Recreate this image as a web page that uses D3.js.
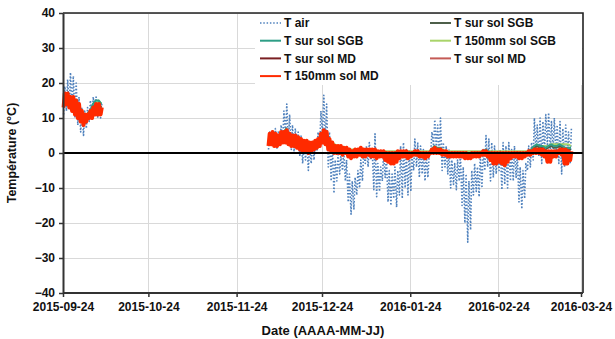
<!DOCTYPE html>
<html>
<head>
<meta charset="utf-8">
<script src="https://cdn.jsdelivr.net/npm/d3@7"></script>
<style>
  body { margin: 0; background: #fff; }
  svg { font-family: "Liberation Sans", Arial, sans-serif; font-weight: bold; }
</style>
</head>
<body>
<svg id="chart" width="615" height="339"></svg>
<script>
// two measurement periods, one value per day
const seg1Start = "2015-09-24";
const seg2Start = "2015-12-05";

const tickDates = ["2015-09-24", "2015-10-24", "2015-11-24", "2015-12-24", "2016-01-24", "2016-02-24", "2016-03-24"];
const yTicks = [-40, -30, -20, -10, 0, 10, 20, 30, 40];

// T air: daily max / min
const tAirMax1 = [19, 21, 23, 22, 20, 16, 13, 12, 13, 15, 16, 16, 15, 14];
const tAirMin1 = [11, 12, 13, 12, 10, 8, 6, 5, 7, 9, 10, 11, 10, 10];
const tAirMax2 = [6,5,7,6,8, 12,14,11, 8,7,6, 5,3,4,2, 3,4,6, 12,16.5,14, 6,3,-2, 0,-1,1,-2, -6,-8,-7,-5, -2,0, 2,3,1, 5.5, -3,-4, 0,-1, -5,-6,-4,-5, 2,3,1, 1,-1, 4,3, 2,1, 0,-1, 6,9.5,8,10, 3,2,1, -2,-3,-2, 0, -4,-6,-8,-5, -3,-4, 0,1, 5,4, 3,2, 0,1, 3,2,3,1, 2,0, -4,-5,-3, 2,3, 10,8,10,9,11, 11.5,9,10,8, 9,7,8,6,7];
const tAirMin2 = [1,2,2,1,3, 4,5,3, 1,0,1, -1,-3,-2,-5, -3,-2,0, 2,5,3, -4,-8,-11.5, -8,-6,-5,-8, -14,-17.5,-16,-12, -10,-8, -3,-4,-2, -10.5, -12.5,-11, -8,-7, -14,-15,-13,-15.5, -12,-13,-10, -12,-11, -5,-4, -7,-6, -8,-7, 0,2,1,0, -5,-4,-6, -10,-9,-10.5, -8, -15,-20,-25.5,-22, -12,-11, -12.5,-10, -5,-4, -8,-7, -6,-5, -10.5,-9,-10,-8, -8,-7, -14,-16,-13, -5,-4, -2,0,-1,-3,0, 2,0,1,-1, -3,-6,-4,-2,-3];

// T 150mm sol MD: daily max / min
const md150Max1 = [17, 17, 16, 16, 15, 14, 12, 11, 11, 12, 13, 14, 14, 13];
const md150Min1 = [13, 14, 13, 12, 11, 10, 9, 8, 9, 10, 10, 11, 11, 11];
const md150Max2 = [5.5,6,5.5,5,6,6,6.5,5.5,5,5,4.5, 4,3.5,3.5,3,3,3.5,4, 5.5,6.5,6, 4,3,2,2,2,1.5,1.5, 1,0.5,1,1,1.5,1,1,1,1, 1,0.5,0.5,0.5,0,0,0,0,0.5, 0.5,0.5,0.5,0,0,0.5,0.5,0,0,0,0, 1,1.5,1,1,0.5,0.5,0,0,0,0,0, 0,0,-0.5,0,0,0,0,0.5,0.5,0,0,0,0,0, 0,0,0,0,0,0,0,0,0,0.5,0.5, 1,1,1,1,0.5,0.5,0.5,0.5,0.5,1,1,1,0.5,0.5];
const md150Min2 = [2,2.5,2,2,2.5,3,3,2.5,2,2,1.5, 1,0.5,0.5,0,0.5,1,1.5, 2,3,2.5, 1,0.5,0,0,0,-0.5,0, -1,-1.5,-1,-1,-0.5,-1,-1,-0.5,-1, -1,-1.5,-1,-1,-2,-2.5,-3,-3,-2.5, -1.5,-1,-1,-1.5,-1,-0.5,-0.5,-1,-1,-1.5,-1, 0,0,0,0,-0.5,-0.5,-1,-1,-1,-1,-1, -1,-1.5,-1.5,-1.5,-1,-1,-1,-0.5,-0.5,-1,-2,-3,-3,-2.5, -3,-3.5,-2.5,-1.5,-1,-1,-1.5,-1.5,-1,-0.5,-0.5, 0,0,0,-0.5,-1,-2.5,-2.5,-1,-1,0,-0.5,-3,-3,-2];

// other soil sensors: daily means
const sgbSurfA1 = [15, 16, 16, 15, 14, 13, 11, 10, 11, 12, 14, 15, 15, 14];
const sgbSurfA2 = [4,5,5,4,5,6,7,5,4,4,4, 3,2,2,1.5,2,2.5,3, 5,6.5,5, 3,2,1,1,1,0.5,0.5, 0.5,0,0.5,0.5,1,0.5,0.5,0.5,0.5, 0.5,0,0,0,0,-0.5,-0.5,-0.5,0, 0,0,0,0,0,0.5,0.5,0,0,0,0, 1,2,1.5,1.5,0.5,0.5,0,0,0,0,0, 0,-0.5,-0.5,-0.5,0,0,0,0.5,1,0.5,0,0,0,0, 0,0,0,0,0,0,0,0,0,0.5,1, 2,2.5,2,2,1.5,2,2.5,2,2,2.5,2,1.5,1.5,1.5];
const sgbSurfB1 = [15, 15, 15, 14, 13, 12, 11, 10, 11, 12, 13, 14, 14, 13];
const sgbSurfB2 = [3.5,4,4,3.5,4,5,5.5,4.5,4,3.5,3.5, 3,2,2,1.5,1.5,2,2.5, 4,5.5,4.5, 2.5,2,1,1,0.5,0.5,0.5, 0,0,0,0.5,0.5,0.5,0,0.5,0.5, 0,0,0,-0.5,-0.5,-0.5,-0.5,-0.5,0, 0,0,0,0,0,0,0.5,0,0,0,0, 0.5,1.5,1,1,0.5,0,0,0,0,0,0, 0,-0.5,-0.5,-0.5,-0.5,0,0,0,0.5,0,0,0,0,0, 0,0,0,0,0,0,0,0,0,0,0.5, 1.5,2,1.5,1.5,1,1.5,2,1.5,1.5,2,1.5,1,1,1];
const sgb150_1 = [15, 15, 15, 15, 14, 13, 12, 11, 11, 12, 13, 14, 15, 14];
const sgb150_2 = [4.5,4.5,4.5,4.5,4.5,5,5,5,4.5,4.5,4, 3.5,3,3,2.5,2.5,2.5,3, 3.5,4.5,4.5, 3.5,3,2.5,2,2,1.5,1.5, 1,1,1,1,1,1,1,1,1, 1,0.5,0.5,0.5,0.5,0.5,0.5,0.5,0.5, 0.5,0.5,0.5,0.5,0.5,0.5,0.5,0.5,0.5,0.5,0.5, 1,1,1,1,1,0.5,0.5,0.5,0.5,0.5,0.5, 0.5,0.5,0.5,0.5,0.5,0.5,0.5,0.5,0.5,0.5,0.5,0.5,0.5,0.5, 0.5,0.5,0.5,0.5,0.5,0.5,0.5,0.5,0.5,0.5,1, 1.5,2,2,2,2,2,2.5,2.5,2.5,2.5,2.5,2.5,2.5,2];
const mdSurfA1 = [15, 16, 15, 14, 13, 12, 10, 10, 10, 11, 12, 13, 13, 12];
const mdSurfA2 = [4,4.5,4,3.5,4.5,5,5.5,4,3.5,3.5,3, 2.5,2,2,1.5,1.5,2,2.5, 4,5,4, 2.5,1.5,1,1,1,0.5,0.5, 0,-0.5,0,0,0.5,0,0,0,0, 0,-0.5,-0.5,-0.5,-1,-1.5,-1.5,-1.5,-1, -0.5,-0.5,-0.5,-0.5,-0.5,0,0,-0.5,-0.5,-0.5,-0.5, 0.5,1,0.5,0.5,0,0,-0.5,-0.5,-0.5,-0.5,-0.5, -0.5,-1,-1,-1,-0.5,-0.5,-0.5,0,0,-0.5,-1,-1.5,-1.5,-1.5, -1.5,-2,-1.5,-1,-0.5,-0.5,-1,-1,-0.5,0,0, 0.5,0.5,0.5,0,-0.5,-1.5,-1.5,-0.5,-0.5,0.5,0,-1.5,-1.5,-1];
const mdSurfB1 = [16, 16, 15, 14, 13, 12, 10, 9, 10, 11, 12, 13, 13, 12];
const mdSurfB2 = [4.5,5,4.5,4,5,5,6,4.5,4,4,3.5, 3,2.5,2,1.5,2,2.5,3, 4.5,5.5,4.5, 3,2,1,1,1,0.5,1, 0,-0.5,0,0,0.5,0,0,0.5,0, 0,0,-0.5,-0.5,-1,-1.5,-2,-2,-1.5, -0.5,0,0,-0.5,-0.5,0,0,-0.5,-0.5,-0.5,-0.5, 0.5,1,0.5,0.5,0,0,-0.5,-0.5,-0.5,-0.5,-0.5, -0.5,-0.5,-1,-1,-0.5,-0.5,-0.5,0,0,-0.5,-1,-2,-2,-1.5, -2,-2.5,-1.5,-1,-0.5,-0.5,-1,-1,-0.5,0,0, 0.5,0.5,0.5,0,-0.5,-1.5,-1.5,-0.5,-0.5,0.5,0,-2,-2,-1.5];

const width = 615, height = 339;
const margin = { top: 13, right: 32, bottom: 46, left: 63 };

const svg = d3.select("#chart");
const parse = d3.utcParse("%Y-%m-%d");
const hour = 3600 * 1000;

const x = d3.scaleUtc()
    .domain([parse("2015-09-24"), parse("2016-03-24")])
    .range([margin.left, width - margin.right - 2]);
const y = d3.scaleLinear()
    .domain([-40, 40])
    .range([height - margin.bottom, margin.top]);

// daily max/min -> min early morning, max afternoon
function zigzag(start, maxs, mins) {
    const t0 = parse(start).getTime();
    const pts = [];
    maxs.forEach((mx, i) => {
        pts.push([new Date(t0 + i * 24 * hour + 5 * hour), mins[i]]);
        pts.push([new Date(t0 + i * 24 * hour + 15 * hour), mx]);
    });
    return pts;
}
function daily(start, vals) {
    const t0 = parse(start).getTime();
    return vals.map((v, i) => [new Date(t0 + i * 24 * hour + 12 * hour), v]);
}

const series = [
    { name: "T air", color: "#4f81bd", w: 1.6, dash: "1.5,1.8",
      segs: [zigzag(seg1Start, tAirMax1, tAirMin1), zigzag(seg2Start, tAirMax2, tAirMin2)] },
    { name: "T 150mm sol SGB", color: "#a9d46a", w: 2,
      segs: [daily(seg1Start, sgb150_1), daily(seg2Start, sgb150_2)] },
    { name: "T sur sol SGB", color: "#4d5f4a", w: 2,
      segs: [daily(seg1Start, sgbSurfB1), daily(seg2Start, sgbSurfB2)] },
    { name: "T sur sol SGB", color: "#2e9e86", w: 2,
      segs: [daily(seg1Start, sgbSurfA1), daily(seg2Start, sgbSurfA2)] },
    { name: "T sur sol MD", color: "#7a1f22", w: 2,
      segs: [daily(seg1Start, mdSurfA1), daily(seg2Start, mdSurfA2)] },
    { name: "T sur sol MD", color: "#c45a55", w: 2,
      segs: [daily(seg1Start, mdSurfB1), daily(seg2Start, mdSurfB2)] },
    { name: "T 150mm sol MD", color: "#ff2a00", w: 4,
      segs: [zigzag(seg1Start, md150Max1, md150Min1), zigzag(seg2Start, md150Max2, md150Min2)] }
];

// grid
const grid = svg.append("g").attr("stroke", "#d9d9d9").attr("stroke-width", 1);
grid.selectAll(".gy").data(yTicks).join("line")
    .attr("x1", margin.left).attr("x2", width - margin.right)
    .attr("y1", d => y(d) + 0.5).attr("y2", d => y(d) + 0.5);
grid.selectAll(".gx").data(tickDates.slice(1)).join("line")
    .attr("x1", d => Math.round(x(parse(d))) + 0.5).attr("x2", d => Math.round(x(parse(d))) + 0.5)
    .attr("y1", margin.top).attr("y2", height - margin.bottom);

// legend background hides grid under it
svg.append("rect")
    .attr("x", 255).attr("y", margin.top + 1)
    .attr("width", width - margin.right - 256).attr("height", 71)
    .attr("fill", "#fff");

// lines
const line = d3.line().x(d => x(d[0])).y(d => y(d[1]));
const lines = svg.append("g").attr("fill", "none");
series.forEach(s => {
    s.segs.forEach(seg => {
        lines.append("path")
            .attr("d", line(seg))
            .attr("stroke", s.color)
            .attr("stroke-width", s.w)
            .attr("stroke-dasharray", s.dash || null)
            .attr("stroke-linejoin", "round");
    });
});

// zero line
svg.append("line")
    .attr("x1", margin.left).attr("x2", width - margin.right)
    .attr("y1", y(0)).attr("y2", y(0))
    .attr("stroke", "#000").attr("stroke-width", 2);

// frame top/right
svg.append("path")
    .attr("d", `M${margin.left},${margin.top}H${width - margin.right}V${height - margin.bottom}`)
    .attr("fill", "none").attr("stroke", "#222").attr("stroke-width", 1.6);

// axes
const xAxis = svg.append("g")
    .attr("transform", `translate(0,${height - margin.bottom})`)
    .call(d3.axisBottom(x)
        .tickValues(tickDates.map(parse))
        .tickFormat(d3.utcFormat("%Y-%m-%d"))
        .tickSize(4)
        .tickSizeOuter(0)
        .tickPadding(5));
xAxis.select(".domain").attr("stroke", "#333").attr("stroke-width", 2)
    .attr("d", `M${margin.left},0H${width - margin.right}`);
xAxis.selectAll(".tick line").attr("stroke", "#333").attr("stroke-width", 1.5);
xAxis.selectAll("text").attr("fill", "#111").style("font-size", "12px").style("font-weight", "bold");

const yAxis = svg.append("g")
    .attr("transform", `translate(${margin.left},0)`)
    .call(d3.axisLeft(y).tickValues(yTicks).tickSize(4).tickSizeOuter(0).tickPadding(4));
yAxis.select(".domain").attr("stroke", "#333").attr("stroke-width", 2);
yAxis.selectAll(".tick line").attr("stroke", "#333").attr("stroke-width", 1.5);
yAxis.selectAll("text").attr("fill", "#111").style("font-size", "12px").style("font-weight", "bold");

// axis titles
svg.append("text")
    .attr("x", (margin.left + width - margin.right) / 2)
    .attr("y", 335)
    .attr("text-anchor", "middle")
    .attr("fill", "#111")
    .style("font-size", "13px")
    .text("Date (AAAA-MM-JJ)");
svg.append("text")
    .attr("transform", `translate(16,${(margin.top + height - margin.bottom) / 2}) rotate(-90)`)
    .attr("text-anchor", "middle")
    .attr("fill", "#111")
    .style("font-size", "12.5px")
    .text("Température (°C)");

// legend, two columns
const legendOrder = [
    { s: series[0], col: 0, row: 0 },
    { s: series[3], col: 0, row: 1 },
    { s: series[4], col: 0, row: 2 },
    { s: series[6], col: 0, row: 3 },
    { s: series[2], col: 1, row: 0 },
    { s: series[1], col: 1, row: 1 },
    { s: series[5], col: 1, row: 2 }
];
const colX = [260, 430];
const legend = svg.append("g")
    .selectAll("g")
    .data(legendOrder)
    .join("g")
    .attr("transform", d => `translate(${colX[d.col]},${23 + d.row * 17.7})`);
legend.append("line")
    .attr("x1", 0).attr("x2", 21)
    .attr("stroke", d => d.s.color)
    .attr("stroke-width", d => Math.min(d.s.w, 2))
    .attr("stroke-dasharray", d => d.s.dash || null);
legend.append("text")
    .attr("x", 24)
    .attr("dy", "0.35em")
    .attr("fill", "#111")
    .style("font-size", "12px")
    .text(d => d.s.name);
</script>
</body>
</html>
